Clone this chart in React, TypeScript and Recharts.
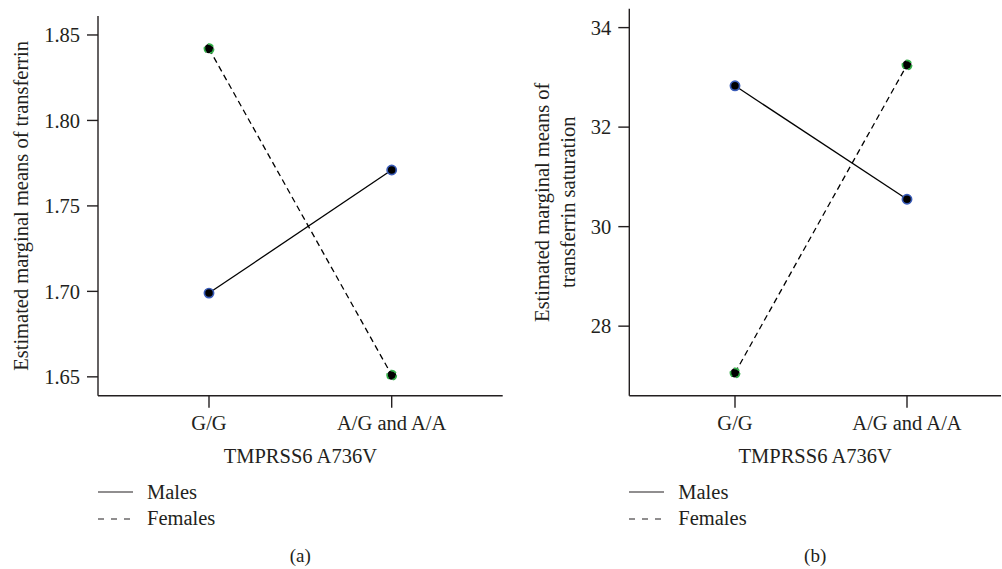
import React from 'react'
import { LineChart, Line, XAxis, YAxis, Legend } from 'recharts'

// genotype groups on the x axis
const categories = ['G/G', 'A/G and A/A']

// panel (a): estimated marginal means of transferrin
const transferrinMales = [1.699, 1.771]
const transferrinFemales = [1.842, 1.651]
const transferrinTicks = [1.65, 1.7, 1.75, 1.8, 1.85]

// panel (b): estimated marginal means of transferrin saturation
const saturationMales = [32.83, 30.55]
const saturationFemales = [27.06, 33.25]
const saturationTicks = [28, 30, 32, 34]

const FONT = '"Liberation Serif", "DejaVu Serif", serif'
const FS = 20.5
const INK = '#231f20'
const MALE_RING = '#3a5cb8'
const FEMALE_RING = '#35b04a'

const buildRows = (males: number[], females: number[]) =>
    categories.map((c, i) => ({ genotype: c, males: males[i], females: females[i] }))

function YTitle({ viewBox, lines, x0 }: any) {
    const cy = viewBox ? viewBox.y + viewBox.height / 2 : 200
    return (
        <g>
            {lines.map((t: string, i: number) => {
                const x = x0 + i * 26
                return (
                    <text key={i} x={x} y={cy} transform={`rotate(-90 ${x} ${cy})`}
                        textAnchor="middle" dominantBaseline="central"
                        fontFamily={FONT} fontSize={FS} fill={INK}>{t}</text>
                )
            })}
        </g>
    )
}

function XTitle({ viewBox }: any) {
    const cx = viewBox ? viewBox.x + viewBox.width / 2 : 300
    return (
        <text x={cx} y={viewBox.y + 67} textAnchor="middle"
            fontFamily={FONT} fontSize={FS} fill={INK}>TMPRSS6 A736V</text>
    )
}

function LegendBox() {
    const rows = [
        { name: 'Males', dash: undefined },
        { name: 'Females', dash: '6 7' },
    ]
    return (
        <div style={{ fontFamily: FONT, fontSize: FS, color: INK }}>
            {rows.map(r => (
                <div key={r.name} style={{ display: 'flex', alignItems: 'center', height: 26.6 }}>
                    <svg width={35} height={10} style={{ marginRight: 14 }}>
                        <line x1={0} x2={35} y1={5} y2={5} stroke={INK} strokeWidth={1.2} strokeDasharray={r.dash} />
                    </svg>
                    <span>{r.name}</span>
                </div>
            ))}
        </div>
    )
}

const dot = (ring: string) => ({ r: 4.6, fill: '#000', stroke: ring, strokeWidth: 1.7 })

type PanelProps = {
    left: number
    width: number
    yWidth: number
    padLeft: number
    padRight: number
    marginTop: number
    marginRight: number
    males: number[]
    females: number[]
    domain: [number, number]
    ticks: number[]
    fmt: (v: number) => string
    titleLines: string[]
    titleX: number
    caption: string
}

function Panel(p: PanelProps) {
    const data = buildRows(p.males, p.females)
    const axisStroke = { stroke: INK, strokeWidth: 1.4 }
    const tickStyle = { fontSize: FS, fill: INK, fontFamily: FONT }
    const plotLeft = p.yWidth
    const plotRight = p.width - p.marginRight
    return (
        <div style={{ position: 'absolute', left: p.left, top: 0, width: p.width, height: 569 }}>
            <LineChart width={p.width} height={569} data={data}
                margin={{ top: p.marginTop, right: p.marginRight, bottom: 66, left: 0 }}>
                <XAxis dataKey="genotype" padding={{ left: p.padLeft, right: p.padRight }}
                    height={54} tickSize={12} tickMargin={8}
                    axisLine={axisStroke} tickLine={axisStroke} tick={tickStyle}
                    label={<XTitle />} />
                <XAxis xAxisId="top" dataKey="genotype" orientation="top" height={0}
                    tick={false} tickLine={false} axisLine={axisStroke} />
                <YAxis domain={p.domain} ticks={p.ticks} width={p.yWidth} tickFormatter={p.fmt}
                    tickSize={11} tickMargin={7} allowDataOverflow
                    axisLine={axisStroke} tickLine={axisStroke} tick={tickStyle}
                    label={<YTitle lines={p.titleLines} x0={p.titleX} />} />
                <YAxis yAxisId="right" orientation="right" width={0} domain={p.domain}
                    tick={false} tickLine={false} axisLine={axisStroke} />
                <Legend layout="vertical" verticalAlign="bottom" align="center"
                    wrapperStyle={{ top: 479, left: plotLeft, bottom: 'auto', width: 'auto' }}
                    content={<LegendBox />} />
                <Line dataKey="males" name="Males" stroke="#000" strokeWidth={1.3}
                    dot={dot(MALE_RING)} activeDot={false} isAnimationActive={false} />
                <Line dataKey="females" name="Females" stroke="#000" strokeWidth={1.3}
                    strokeDasharray="6 4" dot={dot(FEMALE_RING)} activeDot={false}
                    isAnimationActive={false} />
            </LineChart>
            <div style={{
                position: 'absolute', top: 545, left: plotLeft, width: plotRight - plotLeft,
                textAlign: 'center', fontFamily: FONT, fontSize: 19, color: INK,
            }}>{p.caption}</div>
        </div>
    )
}

export default function App() {
    return (
        <div style={{ position: 'absolute', left: 0, top: 0, width: 1002, height: 569, background: '#fff', overflow: 'hidden' }}>
            <Panel left={0} width={504} yWidth={98} padLeft={111} padRight={111}
                marginTop={16} marginRight={1.3}
                males={transferrinMales} females={transferrinFemales}
                domain={[1.6389, 1.8611]} ticks={transferrinTicks} fmt={v => v.toFixed(2)}
                titleLines={['Estimated marginal means of transferrin']} titleX={21}
                caption="(a)" />
            <Panel left={500} width={502} yWidth={129.3} padLeft={105.7} padRight={94}
                marginTop={8.7} marginRight={1}
                males={saturationMales} females={saturationFemales}
                domain={[26.6, 34.38]} ticks={saturationTicks} fmt={v => String(v)}
                titleLines={['Estimated marginal means of', 'transferrin saturation']} titleX={41.7}
                caption="(b)" />
        </div>
    )
}
